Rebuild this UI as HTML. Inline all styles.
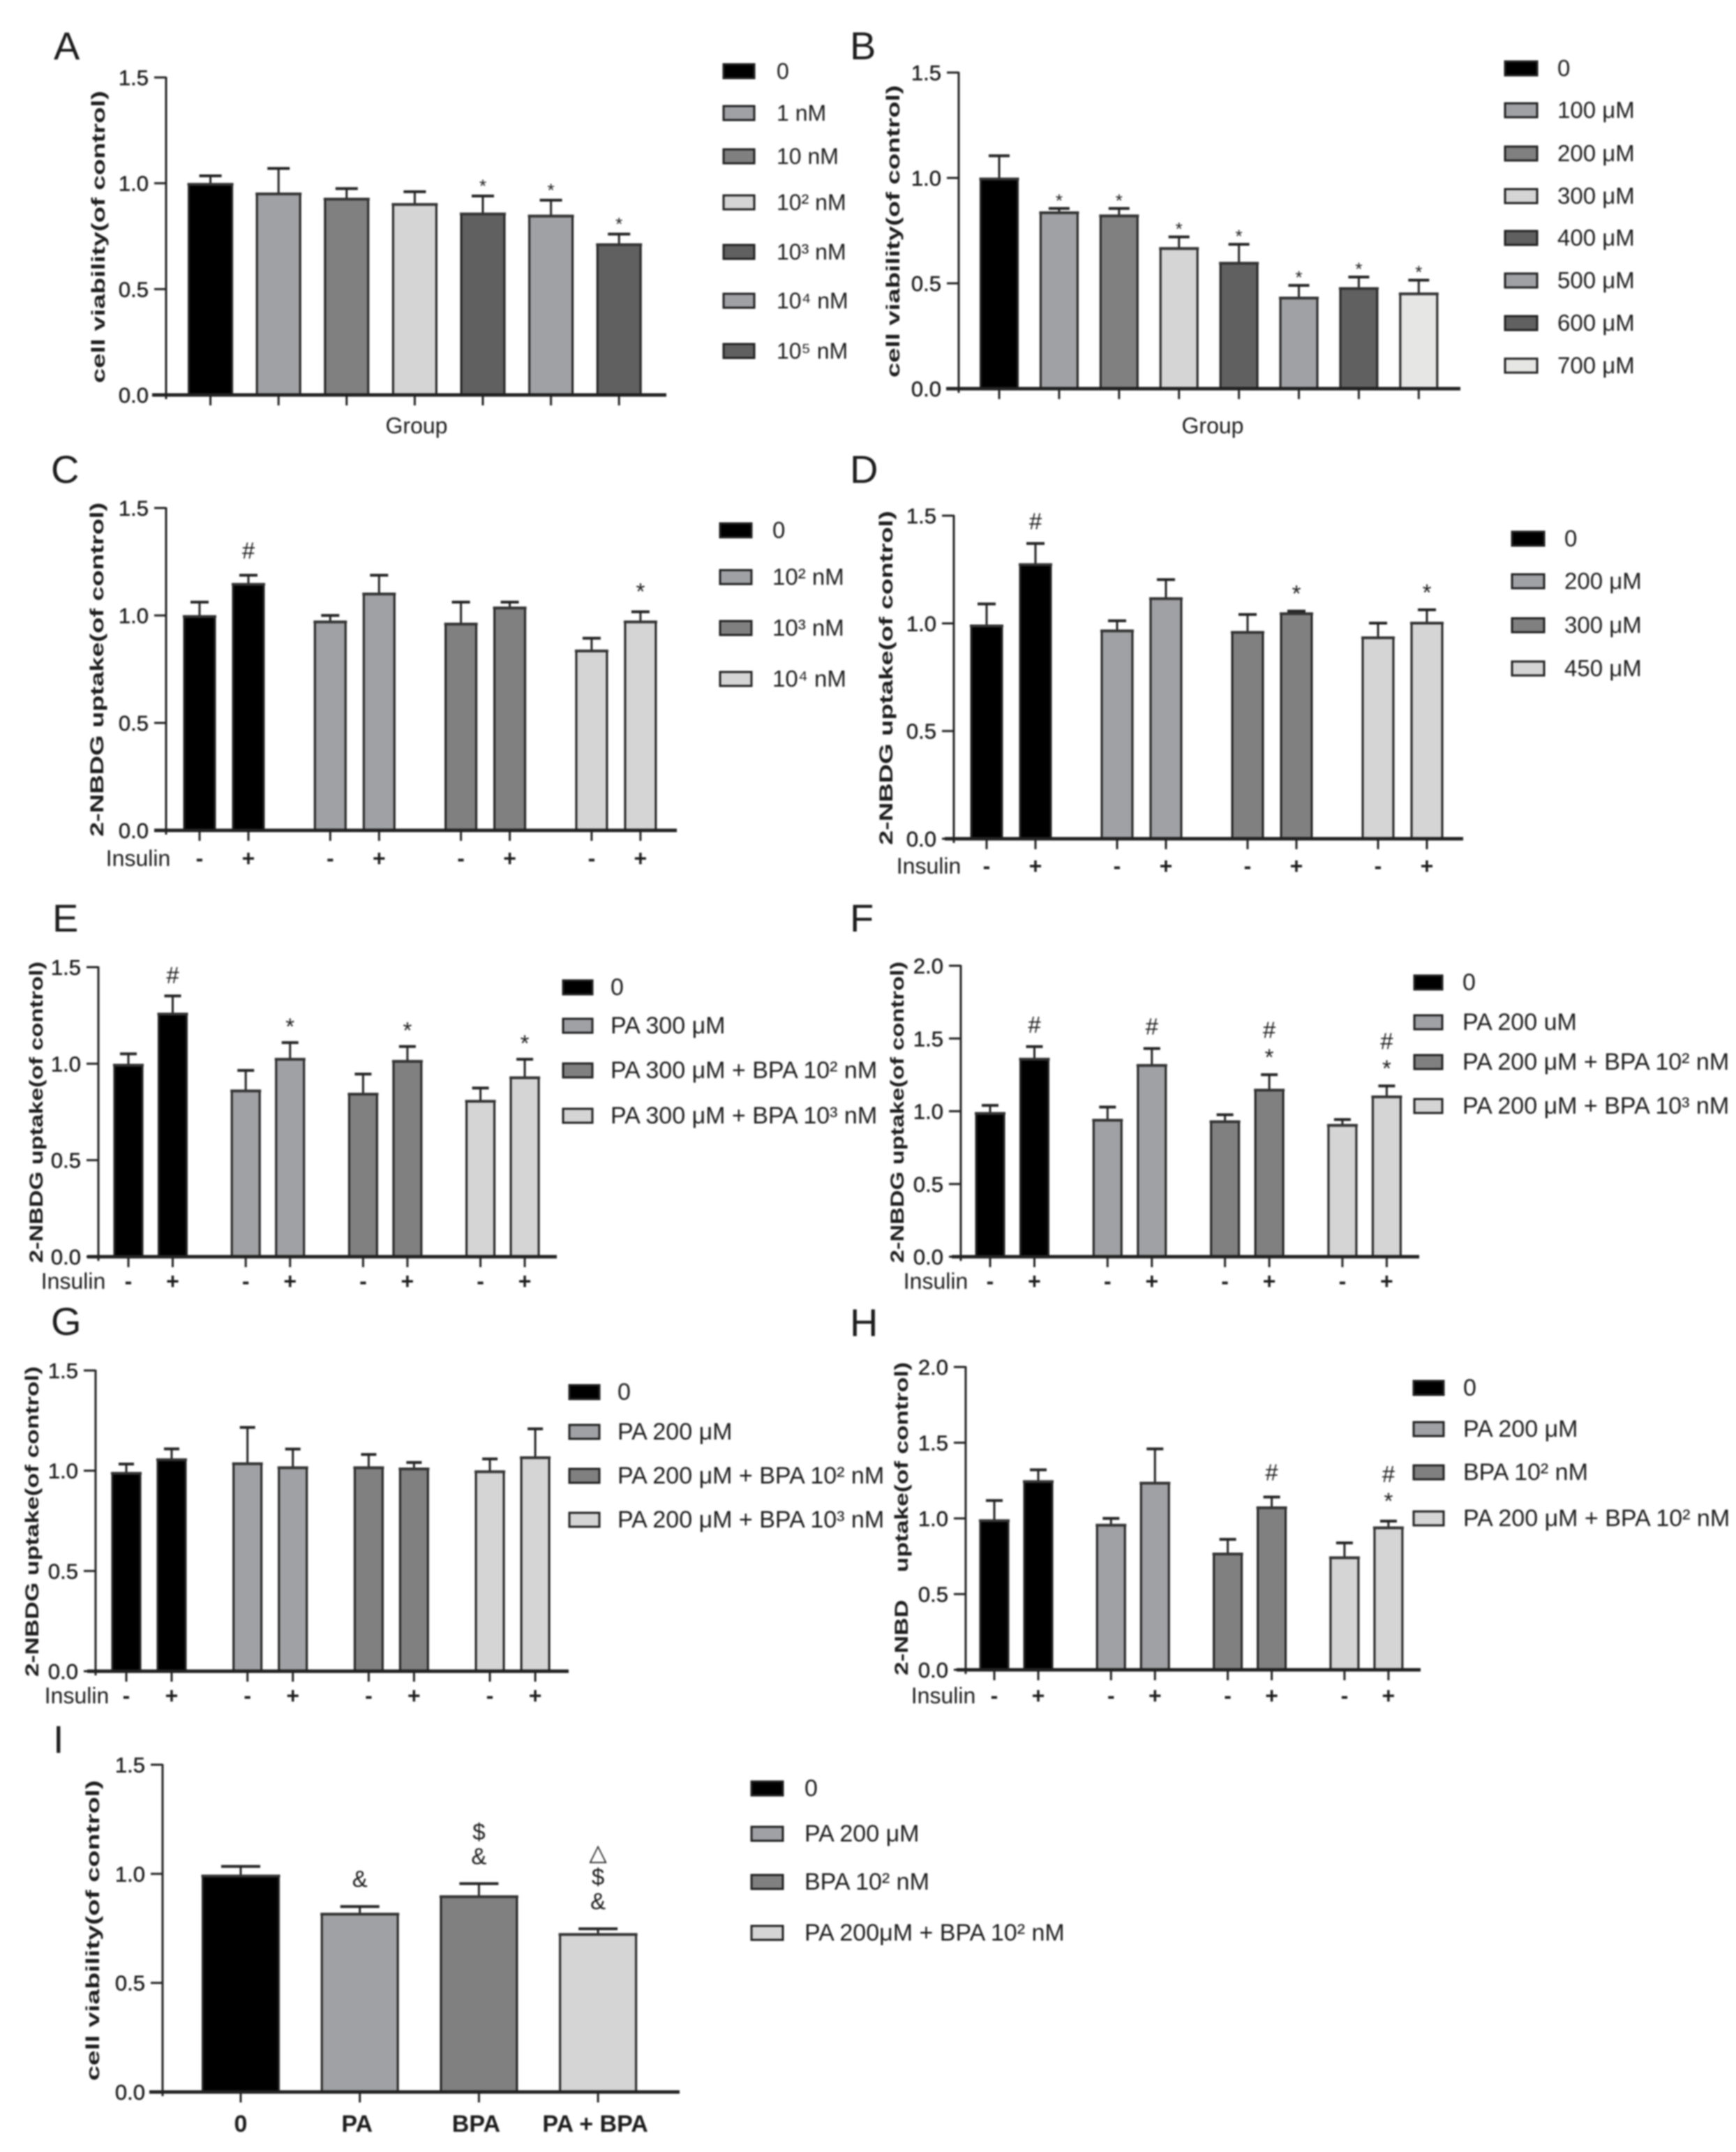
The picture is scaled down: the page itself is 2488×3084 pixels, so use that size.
<!DOCTYPE html>
<html lang="en">
<head>
<meta charset="utf-8">
<title>Cell viability and 2-NBDG uptake panels</title>
<style>
html,body{margin:0;padding:0;background:#fff;}
body{width:2488px;height:3084px;overflow:hidden;}
svg{display:block;filter:blur(1.1px);}
text{font-family:"Liberation Sans","DejaVu Sans","Noto Sans CJK SC",sans-serif;fill:#1c1c1c;}
.tick{font-size:31px;stroke:#1c1c1c;stroke-width:.5px;}
.cat{font-size:34px;font-weight:bold;}
.title{font-size:27px;font-weight:bold;white-space:pre;}
.letter{font-size:56px;}
.row{font-size:32px;}
.sign{font-size:32px;font-weight:bold;}
</style>
</head>
<body>
<svg id="figure" xmlns="http://www.w3.org/2000/svg" width="2488" height="3084" viewBox="0 0 2488 3084"></svg>
<script>
// ---------- chart data ----------
const viabilityTicks = ['0.0', '0.5', '1.0', '1.5'];
const uptakeTicks = ['0.0', '0.5', '1.0', '1.5'];
const wideUptakeTicks = ['0.0', '0.5', '1.0', '1.5', '2.0'];
const insulinLabels = ['-', '+', '-', '+', '-', '+', '-', '+'];

const aCategories = ['0', '1 nM', '10 nM', '10² nM', '10³ nM', '10⁴ nM', '10⁵ nM'];
const aValues = [0.995, 0.95, 0.925, 0.9, 0.855, 0.845, 0.71];
const aErrors = [0.04, 0.12, 0.05, 0.06, 0.085, 0.075, 0.05];
const aMarks = ['', '', '', '', '*', '*', '*'];

const bCategories = ['0', '100 μM', '200 μM', '300 μM', '400 μM', '500 μM', '600 μM', '700 μM'];
const bValues = [0.995, 0.835, 0.82, 0.665, 0.595, 0.43, 0.475, 0.45];
const bErrors = [0.11, 0.02, 0.035, 0.055, 0.09, 0.06, 0.055, 0.065];
const bMarks = ['', '*', '*', '*', '*', '*', '*', '*'];

const cLegend = ['0', '10² nM', '10³ nM', '10⁴ nM'];
const cValues = [0.995, 1.145, 0.97, 1.1, 0.96, 1.035, 0.835, 0.97];
const cErrors = [0.067, 0.042, 0.03, 0.087, 0.102, 0.027, 0.059, 0.047];
const cMarks = ['', '#', '', '', '', '', '', '*'];

const dLegend = ['0', '200 μM', '300 μM', '450 μM'];
const dValues = [0.988, 1.273, 0.965, 1.115, 0.958, 1.045, 0.933, 1.001];
const dErrors = [0.102, 0.098, 0.047, 0.088, 0.083, 0.012, 0.068, 0.062];
const dMarks = ['', '#', '', '', '', '*', '', '*'];

const eLegend = ['0', 'PA 300 μM', 'PA 300 μM + BPA 10² nM', 'PA 300 μM + BPA 10³ nM'];
const eValues = [0.992, 1.257, 0.859, 1.023, 0.842, 1.012, 0.805, 0.927];
const eErrors = [0.059, 0.094, 0.106, 0.086, 0.104, 0.077, 0.069, 0.096];
const eMarks = ['', '#', '', '*', '', '*', '', '*'];

const fLegend = ['0', 'PA 200 uM', 'PA 200 μM + BPA 10² nM', 'PA 200 μM + BPA 10³ nM'];
const fValues = [0.985, 1.358, 0.938, 1.315, 0.928, 1.145, 0.903, 1.099];
const fErrors = [0.055, 0.086, 0.091, 0.116, 0.048, 0.106, 0.04, 0.075];
const fMarks = ['', '#', '', '#', '', '*#', '', '*#'];

const gLegend = ['0', 'PA 200 μM', 'PA 200 μM + BPA 10² nM', 'PA 200 μM + BPA 10³ nM'];
const gValues = [0.987, 1.055, 1.035, 1.015, 1.015, 1.009, 0.995, 1.065];
const gErrors = [0.046, 0.054, 0.181, 0.093, 0.066, 0.032, 0.064, 0.144];
const gMarks = ['', '', '', '', '', '', '', ''];

const hLegend = ['0', 'PA 200 μM', 'BPA 10² nM', 'PA 200 μM + BPA 10² nM'];
const hValues = [0.985, 1.243, 0.955, 1.233, 0.765, 1.07, 0.74, 0.938];
const hErrors = [0.133, 0.078, 0.045, 0.226, 0.097, 0.071, 0.098, 0.044];
const hMarks = ['', '', '', '', '', '#', '', '*#'];

const iLegend = ['0', 'PA 200 μM', 'BPA 10² nM', 'PA 200μM + BPA 10² nM'];
const iCategories = ['0', 'PA', 'BPA', 'PA + BPA'];
const iValues = [0.99, 0.815, 0.895, 0.722];
const iErrors = [0.044, 0.035, 0.06, 0.026];
const iMarks = ['', '&', '&$', '&$△'];

// ---------- drawing helpers ----------
const svgNS = 'http://www.w3.org/2000/svg';
const root = document.getElementById('figure');
const INK = '#222222';

function makeLine(parent, name, x1, y1, x2, y2, width, color) {
  const el = document.createElementNS(svgNS, 'line');
  
  
  el.setAttribute('x1', x1);
  el.setAttribute('y1', y1);
  el.setAttribute('x2', x2);
  el.setAttribute('y2', y2);
  el.setAttribute('stroke', color || INK);
  el.setAttribute('stroke-width', width);
  parent.appendChild(el);
  return el;
}

function makeRect(parent, name, x, y, w, h, fill) {
  const el = document.createElementNS(svgNS, 'rect');
  
  
  el.setAttribute('x', x);
  el.setAttribute('y', y);
  el.setAttribute('width', w);
  el.setAttribute('height', Math.max(h, 0));
  el.setAttribute('fill', fill);
  el.setAttribute('stroke', INK);
  el.setAttribute('stroke-width', 3);
  parent.appendChild(el);
  return el;
}

function makeText(parent, name, x, y, str, cls, anchor) {
  const el = document.createElementNS(svgNS, 'text');
  
  
  el.setAttribute('x', x);
  el.setAttribute('y', y);
  el.setAttribute('text-anchor', anchor || 'start');
  if (cls) el.setAttribute('class', cls);
  el.textContent = str;
  parent.appendChild(el);
  return el;
}

function drawPanel(p) {
  const g = document.createElementNS(svgNS, 'g');
  
  
  root.appendChild(g);

  const yScale = v => p.y0 - v * (p.y0 - p.yTop) / p.yMax;
  const xScale = i => p.pair
    ? p.x0 + Math.floor(i / 2) * p.step + (i % 2) * p.pair
    : p.x0 + i * p.step;

  makeText(g, 'panel-letter-' + p.id, p.letter[0], p.letter[1], p.id.toUpperCase(), 'letter');

  // y axis title
  const title = makeText(g, 'y-axis-title', p.titleX + 9, (p.titleY[0] + p.titleY[1]) / 2, p.title, 'title', 'middle');
  title.setAttribute('transform', 'rotate(-90 ' + (p.titleX + 9) + ' ' + ((p.titleY[0] + p.titleY[1]) / 2) + ')');
  title.setAttribute('textLength', p.titleY[1] - p.titleY[0]);
  title.setAttribute('lengthAdjust', 'spacingAndGlyphs');

  // bars, error bars, significance marks
  p.values.forEach((v, i) => {
    const cx = xScale(i);
    const top = yScale(v);
    const cap = yScale(v + p.errors[i]);
    const hw = p.barW / 2;
    const fill = p.fills[p.pair ? Math.floor(i / 2) : i];
    makeLine(g, 'error-stem-' + i, cx, top, cx, cap, 3);
    makeLine(g, 'error-cap-' + i, cx - p.capW / 2, cap, cx + p.capW / 2, cap, 4);
    makeRect(g, 'bar-' + i, cx - hw, top, p.barW, p.y0 - top, fill);
    makeLine(g, 'bar-top-' + i, cx - hw - 2, top, cx + hw + 2, top, 4, '#333333');
    makeLine(g, 'x-tick-' + i, cx, p.y0, cx, p.y0 + 15, 3);
    Array.from(p.marks[i]).forEach((m, k) => {
      const centre = cap - p.markGap - k * p.markStep;
      const drop = m === '*' ? 0.56 : 0.36;
      const mark = makeText(g, 'significance-mark-' + i, cx, centre + drop * p.markSize, m, '', 'middle');
      mark.setAttribute('font-size', p.markSize);
    });
  });

  // axes
  makeLine(g, 'y-axis-line', p.axisX, p.yTop - 1, p.axisX, p.y0 + 6, 3);
  makeLine(g, 'x-axis-line', p.baseL, p.y0, p.baseR, p.y0, 5);
  p.ticks.forEach(t => {
    const y = yScale(parseFloat(t));
    makeLine(g, 'y-tick-' + t, p.axisX - 17, y, p.axisX, y, 3);
    makeText(g, 'y-tick-label-' + t, p.axisX - 25, y + 11, t, 'tick', 'end');
  });

  // x labels
  if (p.group) {
    makeText(g, 'x-axis-title', p.group[0], p.group[1] + 10, 'Group', 'row', 'middle');
  }
  if (p.insulin) {
    makeText(g, 'insulin-row-label', p.insulin[0], p.insulin[1] + 11, 'Insulin', 'row', 'middle');
    insulinLabels.forEach((s, i) => {
      makeText(g, 'insulin-sign-' + i, xScale(i), p.insulin[1] + 11, s, 'sign', 'middle');
    });
  }
  if (p.categories) {
    p.categories.forEach((c, i) => {
      makeText(g, 'x-tick-label-' + i, xScale(i) - (i ? 4 : 0), p.catY, c, 'cat', 'middle');
    });
  }

  // legend
  p.legend.forEach((label, i) => {
    const y = p.legendRows[i];
    const row = document.createElementNS(svgNS, 'g');
    
    
    g.appendChild(row);
    makeRect(row, 'legend-swatch-' + i, p.legendX, y - 10, p.legendW, 20, p.fills[i]);
    const text = makeText(row, 'legend-label-' + i, p.legendTextX, y + 11, label, '');
    text.setAttribute('font-size', p.legendSize);
  });
}

const GROUP_FILLS = ['#000000', '#a0a1a4', '#808080', '#d4d5d4'];

drawPanel({id:'a', letter:[77,85], title:'cell viability(of control)', titleX:141, titleY:[130,549],
  axisX:238, yTop:111, y0:566, yMax:1.5, baseL:218, baseR:955, x0:301.6, step:97.6, barW:62, capW:32,
  values:aValues, errors:aErrors, marks:aMarks, markGap:20, markStep:34, markSize:26, ticks:viabilityTicks,
  fills:['#000000','#a0a1a4','#808080','#d4d5d4','#606060','#a0a1a4','#606060'],
  group:[597,611], legend:aCategories, legendRows:[102,162,224,290,361,431,503], legendX:1037, legendW:44, legendTextX:1113, legendSize:32});

drawPanel({id:'b', letter:[1218,85], title:'cell viability(of control)', titleX:1280, titleY:[122,541],
  axisX:1374, yTop:104, y0:557, yMax:1.5, baseL:1356, baseR:2093, x0:1432, step:85.9, barW:53, capW:30,
  values:bValues, errors:bErrors, marks:bMarks, markGap:17, markStep:34, markSize:26, ticks:viabilityTicks,
  fills:['#000000','#a0a1a4','#808080','#d4d5d4','#606060','#a0a1a4','#606060','#e6e6e5'],
  group:[1738,611], legend:bCategories, legendRows:[98,158,220,281,341,402,463,524], legendX:2157, legendW:46, legendTextX:2232, legendSize:33});

drawPanel({id:'c', letter:[73,692], title:'2-NBDG uptake(of control)', titleX:139, titleY:[720,1199],
  axisX:238, yTop:728, y0:1190, yMax:1.5, baseL:221, baseR:970, x0:286, step:187.3, pair:70, barW:44, capW:26,
  values:cValues, errors:cErrors, marks:cMarks, markGap:36, markStep:34, markSize:33, ticks:uptakeTicks,
  fills:GROUP_FILLS, insulin:[198,1230], legend:cLegend, legendRows:[760,827,900,973], legendX:1032, legendW:45, legendTextX:1107, legendSize:33});

drawPanel({id:'d', letter:[1218,692], title:'2-NBDG uptake(of control)', titleX:1270, titleY:[732,1211],
  axisX:1367, yTop:739, y0:1202, yMax:1.5, baseL:1354, baseR:2097, x0:1414, step:187, pair:70, barW:44, capW:26,
  values:dValues, errors:dErrors, marks:dMarks, markGap:32, markStep:34, markSize:33, ticks:uptakeTicks,
  fills:GROUP_FILLS, insulin:[1331,1241], legend:dLegend, legendRows:[772,833,896,958], legendX:2167, legendW:46, legendTextX:2242, legendSize:33});

drawPanel({id:'e', letter:[75,1335], title:'2-NBDG uptake(of control)', titleX:52, titleY:[1378,1810],
  axisX:141, yTop:1386, y0:1801, yMax:1.5, baseL:125, baseR:798, x0:184, step:168.2, pair:63.5, barW:40, capW:24,
  values:eValues, errors:eErrors, marks:eMarks, markGap:30, markStep:33, markSize:33, ticks:uptakeTicks,
  fills:GROUP_FILLS, insulin:[105,1836], legend:eLegend, legendRows:[1415,1470,1534,1599], legendX:807, legendW:42, legendTextX:875, legendSize:34});

drawPanel({id:'f', letter:[1218,1335], title:'2-NBDG uptake(of control)', titleX:1286, titleY:[1378,1810],
  axisX:1377, yTop:1384, y0:1801, yMax:2.0, baseL:1364, baseR:2034, x0:1419, step:168.3, pair:63.5, barW:40, capW:24,
  values:fValues, errors:fErrors, marks:fMarks, markGap:32, markStep:32.5, markSize:33, ticks:wideUptakeTicks,
  fills:GROUP_FILLS, insulin:[1341,1836], legend:fLegend, legendRows:[1408,1465,1522,1585], legendX:2027, legendW:40, legendTextX:2096, legendSize:34});

drawPanel({id:'g', letter:[73,1913], title:'2-NBDG uptake(of control)', titleX:46, titleY:[1958,2403],
  axisX:137, yTop:1964, y0:2395, yMax:1.5, baseL:125, baseR:815, x0:181, step:173.7, pair:65, barW:40, capW:22,
  values:gValues, errors:gErrors, marks:gMarks, markGap:30, markStep:33, markSize:33, ticks:uptakeTicks,
  fills:GROUP_FILLS, insulin:[110,2430], legend:gLegend, legendRows:[1995,2052,2115,2178], legendX:816, legendW:43, legendTextX:885, legendSize:34});

drawPanel({id:'h', letter:[1218,1915], title:'2-NBD    uptake(of control)', titleX:1292, titleY:[1952,2401],
  axisX:1384, yTop:1959, y0:2393, yMax:2.0, baseL:1371, baseR:2036, x0:1425, step:167.3, pair:63, barW:40, capW:24,
  values:hValues, errors:hErrors, marks:hMarks, markGap:36, markStep:32, markSize:33, ticks:wideUptakeTicks,
  fills:GROUP_FILLS, insulin:[1352,2430], legend:hLegend, legendRows:[1989,2048,2110,2176], legendX:2026, legendW:43, legendTextX:2097, legendSize:34});

drawPanel({id:'i', letter:[76,2512], title:'cell viability(of control)', titleX:133, titleY:[2551,2982],
  axisX:233, yTop:2529, y0:2998, yMax:1.5, baseL:214, baseR:974, x0:345, step:170.7, barW:109, capW:56,
  values:iValues, errors:iErrors, marks:iMarks, markGap:40, markStep:35, markSize:33, ticks:viabilityTicks,
  fills:GROUP_FILLS, categories:iCategories, catY:3055, legend:iLegend, legendRows:[2563,2628,2697,2770], legendX:1077, legendW:45, legendTextX:1153, legendSize:34});
</script>
</body>
</html>
